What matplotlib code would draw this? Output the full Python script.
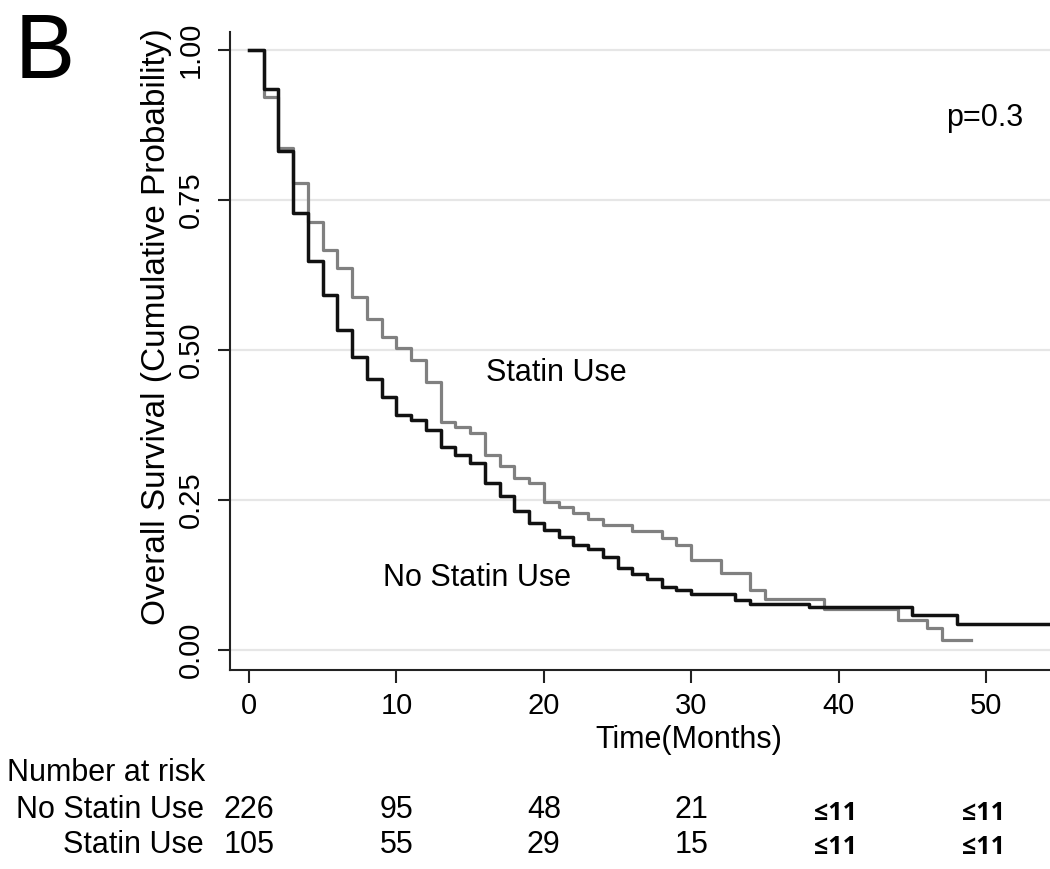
import numpy as np
import matplotlib
matplotlib.use('Agg')
import matplotlib.pyplot as plt
from matplotlib.transforms import blended_transform_factory

plt.rcParams['font.family'] = ['Liberation Sans', 'DejaVu Sans']

# Kaplan-Meier steps (time in months, survival)
no_statin_t = [0, 1, 2, 3, 4, 5, 6, 7, 8, 9, 10, 11, 12, 13, 14, 15, 16, 17, 18, 19,
               20, 21, 22, 23, 24, 25, 26, 27, 28, 29, 30, 33, 34, 38, 45, 48, 54.5]
no_statin_s = [1.0, 0.935, 0.832, 0.729, 0.649, 0.592, 0.533, 0.489, 0.451, 0.422,
               0.392, 0.383, 0.367, 0.339, 0.325, 0.311, 0.278, 0.256, 0.231, 0.211,
               0.200, 0.189, 0.175, 0.169, 0.155, 0.136, 0.127, 0.118, 0.105, 0.100,
               0.094, 0.083, 0.077, 0.071, 0.058, 0.044, 0.044]

statin_t = [0, 1, 2, 3, 4, 5, 6, 7, 8, 9, 10, 11, 12, 13, 14, 15, 16, 17, 18, 19,
            20, 21, 22, 23, 24, 26, 28, 29, 30, 32, 34, 35, 39, 44, 46, 47, 49]
statin_s = [1.0, 0.922, 0.836, 0.778, 0.713, 0.666, 0.636, 0.589, 0.551, 0.522,
            0.503, 0.483, 0.447, 0.380, 0.372, 0.361, 0.325, 0.306, 0.286, 0.278,
            0.247, 0.239, 0.228, 0.219, 0.208, 0.199, 0.186, 0.175, 0.150, 0.129,
            0.100, 0.085, 0.069, 0.050, 0.036, 0.017, 0.017]

risk_times = [0, 10, 20, 30, 40, 50]
risk_no_statin = ['226', '95', '48', '21', '≤11', '≤11']
risk_statin = ['105', '55', '29', '15', '≤11', '≤11']

yticks = [0.0, 0.25, 0.5, 0.75, 1.0]
xticks = [0, 10, 20, 30, 40, 50]

fig = plt.figure(figsize=(10.5, 8.69), dpi=100)
ax = fig.add_axes([230 / 1050, 1 - 670 / 869, 820 / 1050, 638 / 869])

for y in yticks:
    ax.axhline(y, color='#e6e6e6', lw=1.6, zorder=0)

ax.step(statin_t, statin_s, where='post', color='#808080', lw=2.3, zorder=2)
ax.step(no_statin_t, no_statin_s, where='post', color='#111111', lw=2.5, zorder=3)

ax.set_xlim(-1.29, 54.34)
ax.set_ylim(-0.0333, 1.03)
ax.set_xticks(xticks)
ax.set_yticks(yticks)
ax.set_yticklabels(['0.00', '0.25', '0.50', '0.75', '1.00'])
ax.tick_params(axis='both', length=9, width=1.5, labelsize=21, color='#222222')
ax.tick_params(axis='x', pad=7)
ax.tick_params(axis='y', pad=9)
plt.setp(ax.get_yticklabels(), rotation=90, va='center', ha='right')

for side in ['top', 'right']:
    ax.spines[side].set_visible(False)
for side in ['left', 'bottom']:
    ax.spines[side].set_linewidth(1.5)
    ax.spines[side].set_color('#222222')

ax.set_ylabel('Overall Survival (Cumulative Probability)', fontsize=24)
ax.yaxis.set_label_coords(-0.071, 0.538)
ax.set_xlabel('Time(Months)', fontsize=22)
ax.xaxis.set_label_coords(0.559, -0.086)

ax.text(16.1, 0.462, 'Statin Use', fontsize=22, va='center', ha='left')
ax.text(9.1, 0.12, 'No Statin Use', fontsize=22, va='center', ha='left')
ax.text(52.5, 0.887, 'p=0.3', fontsize=22, va='center', ha='right')

fig.text(15 / 1050, 1 - 55 / 869, 'B', fontsize=65, va='center', ha='left')

# number at risk table
trans = blended_transform_factory(ax.transData, fig.transFigure)
fig.text(7 / 1050, 1 - 773 / 869, 'Number at risk', fontsize=22, va='center', ha='left')
fig.text(204 / 1050, 1 - 810 / 869, 'No Statin Use', fontsize=22, va='center', ha='right')
fig.text(204 / 1050, 1 - 845 / 869, 'Statin Use', fontsize=22, va='center', ha='right')
for t, a, b in zip(risk_times, risk_no_statin, risk_statin):
    if a.startswith('≤'):
        kw = dict(fontsize=18, fontweight='bold', family=['Open Sans', 'DejaVu Sans'])
        ax.text(t - 0.2, 1 - 813 / 869, a, transform=trans, va='center', ha='center', **kw)
        ax.text(t - 0.2, 1 - 848 / 869, b, transform=trans, va='center', ha='center', **kw)
    else:
        ax.text(t, 1 - 810 / 869, a, transform=trans, va='center', ha='center', fontsize=22)
        ax.text(t, 1 - 845 / 869, b, transform=trans, va='center', ha='center', fontsize=22)

fig.savefig('out.png', dpi=100)
